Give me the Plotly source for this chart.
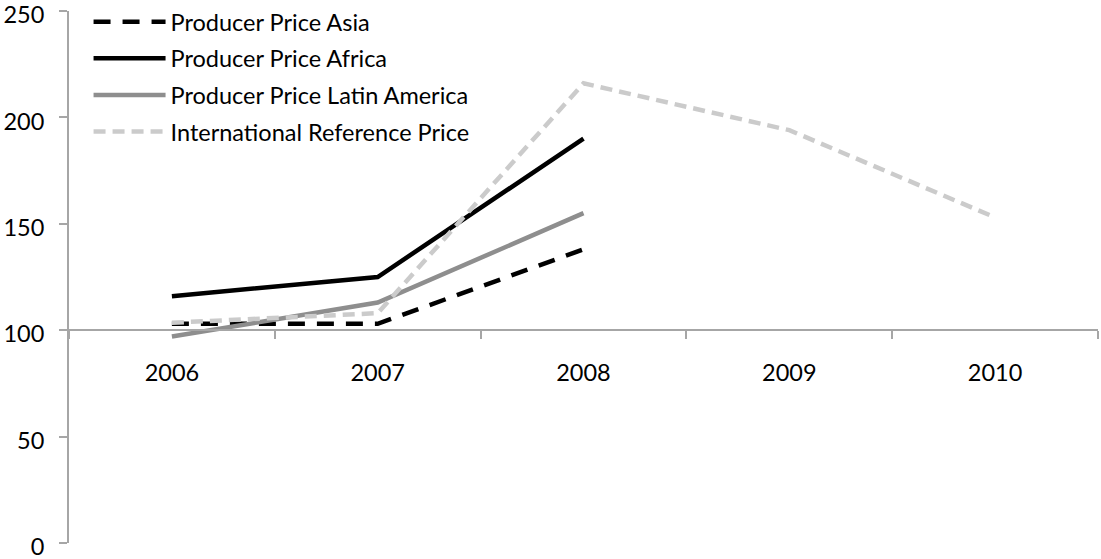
import plotly.graph_objects as go

years = ["2006", "2007", "2008", "2009", "2010"]
asia = [103, 103, 138, None, None]
africa = [116, 125, 190, None, None]
latin = [97, 113, 155, None, None]
intl = [103.5, 108, 216, 194, 153]

FONT = "Lato"
fig = go.Figure()
fig.add_trace(go.Scatter(x=years, y=asia, name="Producer Price Asia", mode="lines", legendgroup="a",
                         line=dict(color="black", width=4.5, dash="17px,12px")))
fig.add_trace(go.Scatter(x=years, y=africa, name="Producer Price Africa", mode="lines", legendgroup="b",
                         line=dict(color="black", width=4.5)))
fig.add_trace(go.Scatter(x=years, y=latin, name="Producer Price Latin America", mode="lines", legendgroup="c",
                         line=dict(color="#8e8e8e", width=4.5)))
fig.add_trace(go.Scatter(x=years, y=intl, name="International Reference Price", mode="lines", legendgroup="d",
                         line=dict(color="#cbcbcb", width=4.5, dash="12px,7px")))

fig.update_layout(
    width=1101, height=559,
    margin=dict(l=69, r=3, t=11, b=16, autoexpand=False),
    paper_bgcolor="white", plot_bgcolor="white",
    font=dict(family=FONT, size=23.5, color="black"),
    showlegend=True,
    legend=dict(x=0.019, y=1.008, xanchor="left", yanchor="top", yref="container",
                bgcolor="rgba(0,0,0,0)", font=dict(size=23.5, family=FONT),
                itemwidth=72, tracegroupgap=3),
    xaxis=dict(type="category", anchor="free", position=0.4,
               showline=True, linecolor="#a6a6a6", linewidth=2,
               ticks="outside", tickson="boundaries", ticklen=8, tickwidth=2, tickcolor="#a6a6a6",
               showgrid=False, zeroline=False, ticklabelstandoff=22,
               range=[-0.5, 4.5]),
    yaxis=dict(range=[0, 250], dtick=50, showline=True, linecolor="#a6a6a6", linewidth=2,
               ticks="outside", ticklen=8, tickwidth=2, tickcolor="#a6a6a6",
               showgrid=False, zeroline=False, ticklabelstandoff=10,
               ticklabelshift=4, ticklabeloverflow="allow"),
)

fig.write_html("out.html")
